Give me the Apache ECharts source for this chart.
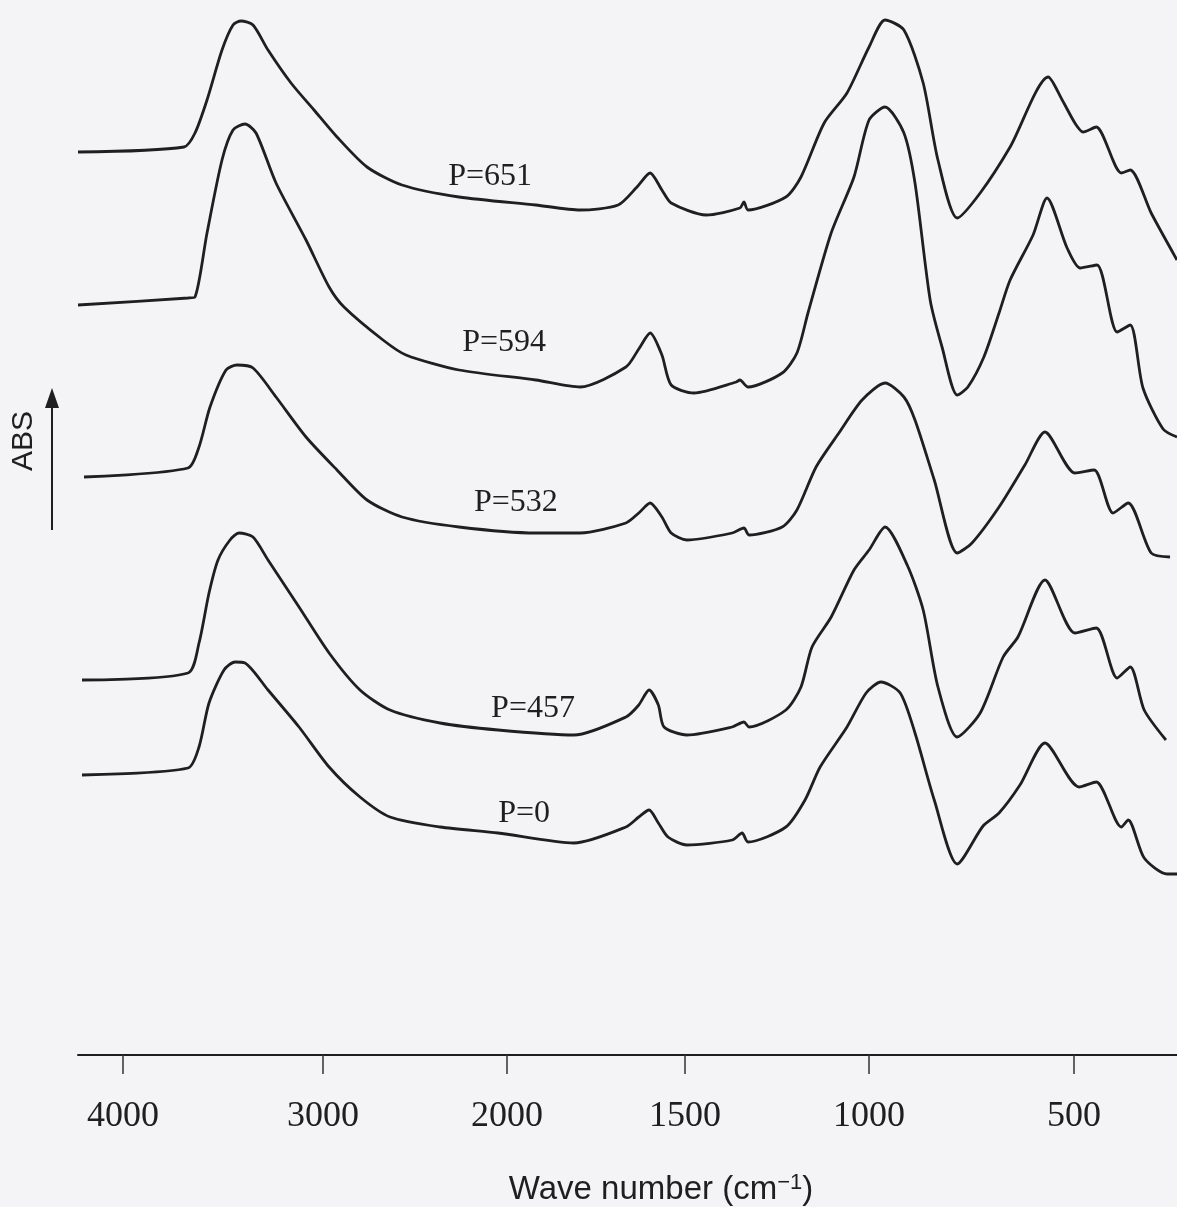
<!DOCTYPE html>
<html>
<head>
<meta charset="utf-8">
<script src="https://cdn.jsdelivr.net/npm/echarts@6/dist/echarts.min.js"></script>
<style>
  html, body { margin: 0; padding: 0; background: #f4f3f6; }
  #chart { width: 1177px; height: 1207px; }
</style>
</head>
<body>
<div id="chart"></div>
<script>
// ---------------- DATA ----------------
// Wave numbers (cm-1) and absorbance (arbitrary units, curves stacked as printed)
const TICK_WN = [4000, 3000, 2000, 1500, 1000, 500];
const SERIES_NAMES = ['P=651', 'P=594', 'P=532', 'P=457', 'P=0'];

const WN_P651 = [4225,3695,3640,3580,3505,3450,3410,3350,3275,3160,3045,2924,2761,2571,2261,1919,1795,1688,1635,1598,1565,1539,1443,1351,1340,1329,1226,1185,1122,1060,1000,961,915,868,832,785,729,656,563,529,498,478,446,385,363,312,249];
const ABS_P651 = [90.3,90.8,92.2,95.5,100.5,103.0,103.4,103.0,100.5,97.2,94.5,91.8,88.8,87.0,85.8,85.0,84.5,85.0,86.8,88.2,86.5,85.2,84.0,84.7,85.3,84.5,85.8,87.8,93.2,96.2,100.8,103.5,102.5,97.2,89.5,83.7,86.2,90.8,97.8,95.5,93.2,92.3,92.8,88.2,88.5,84.2,79.5];

const WN_P594 = [4225,3675,3640,3580,3505,3450,3390,3335,3235,3085,2967,2886,2674,2549,2261,1919,1795,1666,1630,1598,1565,1539,1476,1361,1351,1329,1236,1196,1166,1103,1041,1000,961,915,888,851,822,785,759,720,683,656,600,566,517,485,444,395,363,332,283,249];
const ABS_P594 = [75.0,75.7,75.8,82.2,89.5,92.5,93.1,92.2,87.2,81.5,76.8,74.8,71.5,70.0,68.5,67.5,66.8,68.8,70.6,72.2,70.0,67.0,66.2,67.3,67.5,66.8,68.2,70.2,74.2,82.2,87.8,93.5,94.8,92.2,87.2,75.5,70.8,66.0,66.8,69.8,74.2,77.5,82.0,85.7,80.7,78.7,79.0,72.3,73.0,66.7,62.6,61.8];

const WN_P532 = [4195,3675,3620,3565,3485,3430,3350,3235,3085,2924,2761,2571,2261,1919,1795,1666,1630,1598,1565,1539,1495,1372,1340,1326,1236,1196,1144,1082,1019,961,915,888,841,785,749,683,620,571,498,451,405,368,312,266];
const ABS_P532 = [57.8,58.7,60.8,64.8,68.5,69.0,68.7,65.8,61.8,58.5,55.5,53.8,52.8,52.2,52.2,53.2,54.2,55.2,53.8,52.2,51.5,52.2,52.7,52.0,52.8,54.5,58.8,62.2,65.5,67.2,65.8,63.5,57.5,50.2,51.2,54.8,59.0,62.3,58.2,58.5,54.2,55.2,50.2,49.8];

const WN_P457 = [4205,3675,3620,3570,3525,3465,3420,3350,3275,3120,2967,2799,2636,2364,2049,1812,1666,1630,1601,1575,1559,1495,1372,1340,1326,1226,1185,1155,1103,1041,1000,961,907,868,832,785,729,673,637,571,498,446,395,363,329,276];
const ABS_P457 = [37.5,38.2,41.2,46.2,49.5,51.5,52.2,51.8,49.5,44.8,40.2,36.5,34.5,33.2,32.5,32.0,33.8,35.0,36.5,35.0,32.8,32.0,32.8,33.3,32.8,34.5,36.8,40.8,43.8,48.5,50.5,52.8,49.0,44.5,36.8,31.8,34.2,39.8,41.8,47.5,42.2,42.7,37.7,38.8,34.5,31.5];

const WN_P0 = [4205,3675,3620,3570,3495,3440,3390,3275,3120,2967,2799,2636,2364,2049,1812,1666,1630,1601,1575,1548,1495,1372,1345,1329,1226,1174,1133,1060,1008,971,924,888,841,785,722,683,632,571,488,446,385,368,329,273,249];
const ABS_P0 = [28.0,28.7,30.8,35.2,38.5,39.3,39.2,36.5,32.8,28.8,25.8,23.8,22.8,22.2,21.2,22.8,23.8,24.5,23.2,21.8,21.0,21.5,22.2,21.3,22.8,25.5,28.8,32.8,36.2,37.3,36.2,32.2,25.5,19.1,22.9,24.2,27.0,31.2,26.8,27.3,22.8,23.5,19.7,18.1,18.1];

// Curve label anchors (wave number, absorbance)
const LABEL_WN = [2092, 2016, 1975, 1927, 1952];
const LABEL_ABS = [87.8, 71.2, 55.2, 34.6, 24.1];

// ---------------- SCALE (piecewise wave-number axis as printed) ----------------
// Relative spacing of the printed ticks (4000..500); wave number scale changes at 2000.
const TICK_SPACING = [0, 200, 384, 562, 746, 951];
const WN_MAX = 4225, WN_MIN = 249;

function T(w) {
  const K = TICK_WN, P = TICK_SPACING, n = K.length;
  if (w >= K[0]) return P[0] - (w - K[0]) * (P[1] - P[0]) / (K[0] - K[1]);
  for (let i = 0; i < n - 1; i++) {
    if (w <= K[i] && w >= K[i + 1]) {
      return P[i] + (K[i] - w) * (P[i + 1] - P[i]) / (K[i] - K[i + 1]);
    }
  }
  return P[n - 1] + (K[n - 1] - w) * (P[n - 1] - P[n - 2]) / (K[n - 2] - K[n - 1]);
}

const WNS = [WN_P651, WN_P594, WN_P532, WN_P457, WN_P0];
const ABSS = [ABS_P651, ABS_P594, ABS_P532, ABS_P457, ABS_P0];

const tickPos = TICK_WN.map(T);
const INK = '#1f1f1f';

const series = SERIES_NAMES.map((name, s) => ({
  name: name,
  type: 'line',
  data: WNS[s].map((w, i) => [T(w), ABSS[s][i]]),
  showSymbol: false,
  smooth: 0.25,
  lineStyle: { color: INK, width: 2.8 },
  silent: true,
  markPoint: {
    symbol: 'circle',
    symbolSize: 1,
    itemStyle: { color: 'rgba(0,0,0,0)' },
    label: {
      show: true,
      position: 'inside',
      formatter: name,
      color: INK,
      fontFamily: '"Liberation Serif", "Times New Roman", serif',
      fontSize: 32
    },
    data: [{ coord: [T(LABEL_WN[s]), LABEL_ABS[s]] }]
  }
}));

const chart = echarts.init(document.getElementById('chart'), null, { renderer: 'canvas' });
chart.setOption({
  backgroundColor: '#f4f3f6',
  animation: false,
  grid: { left: 78, right: 0, top: 0, bottom: 152, containLabel: false },
  xAxis: {
    type: 'value',
    min: T(WN_MAX),
    max: T(WN_MIN),
    axisLine: { show: true, lineStyle: { color: '#1e1e1e', width: 2 } },
    axisTick: {
      show: true,
      customValues: tickPos,
      length: 19,
      inside: false,
      lineStyle: { color: '#333', width: 1.5 }
    },
    axisLabel: {
      show: true,
      customValues: tickPos,
      margin: 44,
      color: INK,
      fontFamily: '"Liberation Serif", "Times New Roman", serif',
      fontSize: 36,
      formatter: function (v) {
        for (let i = 0; i < tickPos.length; i++) {
          if (Math.abs(tickPos[i] - v) < 0.5) return String(TICK_WN[i]);
        }
        return '';
      }
    },
    splitLine: { show: false }
  },
  yAxis: {
    type: 'value',
    min: 0,
    max: 105.5,
    show: false
  },
  graphic: [
    {
      type: 'text',
      x: 24, y: 441,
      rotation: Math.PI / 2,
      style: {
        text: 'ABS',
        fontFamily: '"Liberation Sans", Arial, sans-serif',
        fontSize: 30,
        fill: INK,
        align: 'center',
        verticalAlign: 'middle'
      }
    },
    {
      type: 'line',
      shape: { x1: 52, y1: 530, x2: 52, y2: 402 },
      style: { stroke: INK, lineWidth: 2 }
    },
    {
      type: 'polygon',
      shape: { points: [[52, 388], [45, 408], [59, 408]] },
      style: { fill: INK }
    },
    {
      type: 'text',
      x: 661, y: 1190,
      style: {
        text: 'Wave number (cm{s|−1})',
        fontFamily: '"Liberation Sans", Arial, sans-serif',
        fontSize: 33,
        fill: INK,
        align: 'center',
        verticalAlign: 'middle',
        rich: {
          s: { fontSize: 22, fontFamily: '"Liberation Sans", Arial, sans-serif', fill: INK, padding: [0, 0, 14, 0] }
        }
      }
    }
  ],
  series: series
});
</script>
</body>
</html>
